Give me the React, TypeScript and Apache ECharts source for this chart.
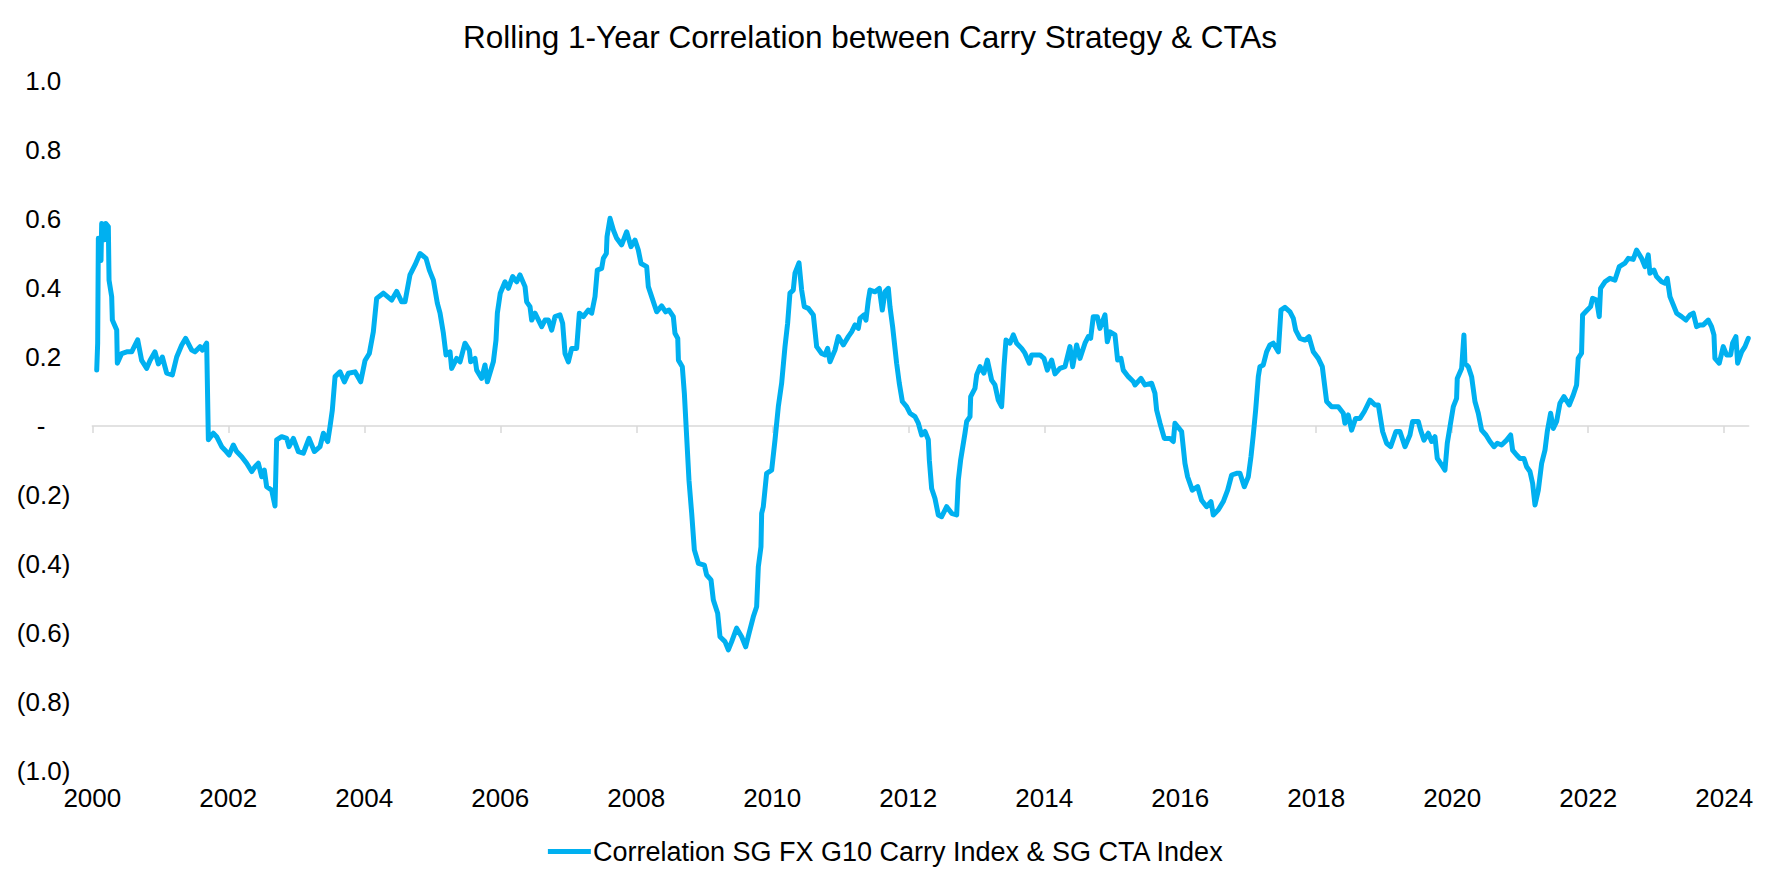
import React, { useEffect, useRef } from "react";
import * as echarts from "echarts";

const TITLE = "Rolling 1-Year Correlation between Carry Strategy & CTAs";
const SERIES_NAME = "Correlation SG FX G10 Carry Index & SG CTA Index";
const xTickYears = [2000, 2002, 2004, 2006, 2008, 2010, 2012, 2014, 2016, 2018, 2020, 2022, 2024];
const yTickValues = [-1, -0.8, -0.6, -0.4, -0.2, 0, 0.2, 0.4, 0.6, 0.8, 1];

// [decimal year, correlation]
const corr2000to2003: [number, number][] = [
  [2000.065, 0.162], [2000.079, 0.24], [2000.089, 0.544], [2000.128, 0.48], [2000.138, 0.587],
  [2000.177, 0.54], [2000.197, 0.587], [2000.236, 0.578], [2000.246, 0.423], [2000.285, 0.375],
  [2000.295, 0.307], [2000.359, 0.278], [2000.368, 0.182], [2000.432, 0.21], [2000.506, 0.215],
  [2000.579, 0.215], [2000.667, 0.25], [2000.726, 0.19], [2000.8, 0.167], [2000.849, 0.19],
  [2000.922, 0.215], [2000.971, 0.18], [2001.03, 0.2], [2001.094, 0.153], [2001.177, 0.148],
  [2001.241, 0.2], [2001.315, 0.235], [2001.373, 0.254], [2001.462, 0.22], [2001.511, 0.215],
  [2001.584, 0.23], [2001.618, 0.22], [2001.682, 0.24], [2001.707, -0.04], [2001.78, -0.021],
  [2001.829, -0.031], [2001.903, -0.06], [2001.952, -0.07], [2002.011, -0.084], [2002.074, -0.055],
  [2002.123, -0.074], [2002.197, -0.089], [2002.27, -0.108], [2002.344, -0.132], [2002.393, -0.118],
  [2002.442, -0.108], [2002.491, -0.147], [2002.53, -0.128], [2002.564, -0.176], [2002.638, -0.186],
  [2002.687, -0.232], [2002.711, -0.04], [2002.785, -0.031], [2002.859, -0.036], [2002.893, -0.06],
  [2002.957, -0.036],
];

const corr2003to2007: [number, number][] = [
  [2003.03, -0.074], [2003.104, -0.079], [2003.187, -0.036], [2003.266, -0.074], [2003.349, -0.06],
  [2003.398, -0.021], [2003.462, -0.045], [2003.496, -0.002], [2003.53, 0.046], [2003.57, 0.143],
  [2003.643, 0.157], [2003.707, 0.128], [2003.766, 0.153], [2003.864, 0.157], [2003.947, 0.128],
  [2004.011, 0.19], [2004.074, 0.21], [2004.133, 0.273], [2004.182, 0.37], [2004.28, 0.385],
  [2004.403, 0.365], [2004.476, 0.39], [2004.55, 0.36], [2004.599, 0.36], [2004.672, 0.438],
  [2004.746, 0.467], [2004.819, 0.5], [2004.908, 0.486], [2004.957, 0.452], [2005.016, 0.423],
  [2005.074, 0.356], [2005.114, 0.327], [2005.163, 0.269], [2005.202, 0.206], [2005.261, 0.215],
  [2005.285, 0.167], [2005.359, 0.196], [2005.408, 0.186], [2005.481, 0.24], [2005.545, 0.22],
  [2005.564, 0.186], [2005.628, 0.196], [2005.653, 0.162], [2005.726, 0.138], [2005.775, 0.177],
  [2005.81, 0.128], [2005.898, 0.186], [2005.937, 0.249], [2005.957, 0.327], [2006.0, 0.385],
  [2006.07, 0.418], [2006.119, 0.399], [2006.182, 0.433], [2006.241, 0.418], [2006.29, 0.438],
  [2006.364, 0.404], [2006.388, 0.36], [2006.437, 0.346], [2006.462, 0.307], [2006.511, 0.327],
  [2006.609, 0.288], [2006.658, 0.307], [2006.707, 0.307], [2006.756, 0.278], [2006.805, 0.317],
  [2006.878, 0.322], [2006.917, 0.298], [2006.952, 0.21], [2007.001, 0.186], [2007.05, 0.225],
  [2007.123, 0.225], [2007.163, 0.327], [2007.221, 0.317], [2007.295, 0.336], [2007.344, 0.327],
];

const corr2007to2011: [number, number][] = [
  [2007.393, 0.375], [2007.427, 0.452], [2007.491, 0.457], [2007.516, 0.486], [2007.56, 0.5],
  [2007.57, 0.549], [2007.614, 0.602], [2007.663, 0.568], [2007.712, 0.544], [2007.785, 0.525],
  [2007.859, 0.563], [2007.922, 0.52], [2007.981, 0.539], [2008.03, 0.51], [2008.07, 0.471],
  [2008.153, 0.462], [2008.177, 0.404], [2008.226, 0.375], [2008.3, 0.331], [2008.373, 0.348],
  [2008.432, 0.331], [2008.481, 0.336], [2008.545, 0.317], [2008.569, 0.269], [2008.61, 0.254],
  [2008.62, 0.191], [2008.677, 0.172], [2008.707, 0.095], [2008.741, -0.031], [2008.775, -0.157],
  [2008.815, -0.253], [2008.854, -0.359], [2008.913, -0.398], [2009.001, -0.403], [2009.035, -0.432],
  [2009.099, -0.446], [2009.133, -0.504], [2009.197, -0.543], [2009.231, -0.611], [2009.305, -0.625],
  [2009.354, -0.649], [2009.403, -0.625], [2009.476, -0.586], [2009.55, -0.611], [2009.609, -0.64],
  [2009.658, -0.601], [2009.721, -0.553], [2009.77, -0.524], [2009.795, -0.408], [2009.834, -0.35],
  [2009.844, -0.253], [2009.868, -0.234], [2009.917, -0.137], [2009.991, -0.128], [2010.04, -0.041],
  [2010.089, 0.056], [2010.138, 0.124], [2010.187, 0.23], [2010.226, 0.298], [2010.26, 0.385],
  [2010.309, 0.394], [2010.334, 0.443], [2010.393, 0.473], [2010.432, 0.394], [2010.471, 0.346],
  [2010.53, 0.341], [2010.604, 0.322], [2010.653, 0.23], [2010.726, 0.21], [2010.775, 0.206],
  [2010.814, 0.225], [2010.849, 0.186], [2010.922, 0.22], [2010.971, 0.259], [2011.045, 0.235],
  [2011.118, 0.259], [2011.167, 0.273],
];

const corr2011to2015: [number, number][] = [
  [2011.217, 0.293], [2011.266, 0.283], [2011.29, 0.312], [2011.349, 0.322], [2011.378, 0.307],
  [2011.413, 0.365], [2011.437, 0.394], [2011.511, 0.389], [2011.574, 0.399], [2011.618, 0.336],
  [2011.658, 0.389], [2011.707, 0.399], [2011.731, 0.346], [2011.77, 0.288], [2011.829, 0.182],
  [2011.868, 0.124], [2011.913, 0.071], [2011.976, 0.056], [2012.025, 0.037], [2012.099, 0.027],
  [2012.148, 0.008], [2012.197, -0.026], [2012.246, -0.016], [2012.295, -0.04], [2012.31, -0.099],
  [2012.344, -0.181], [2012.393, -0.21], [2012.442, -0.258], [2012.491, -0.263], [2012.565, -0.234],
  [2012.638, -0.253], [2012.712, -0.258], [2012.736, -0.157], [2012.77, -0.099], [2012.834, -0.021],
  [2012.859, 0.013], [2012.908, 0.027], [2012.918, 0.085], [2012.981, 0.109], [2013.006, 0.148],
  [2013.055, 0.172], [2013.113, 0.153], [2013.163, 0.191], [2013.226, 0.133], [2013.275, 0.119],
  [2013.324, 0.075], [2013.373, 0.056], [2013.408, 0.172], [2013.437, 0.249], [2013.496, 0.24],
  [2013.545, 0.264], [2013.594, 0.24], [2013.667, 0.225], [2013.716, 0.211], [2013.78, 0.182],
  [2013.815, 0.206], [2013.937, 0.206], [2013.996, 0.196], [2014.045, 0.162], [2014.109, 0.191],
  [2014.158, 0.151], [2014.231, 0.167], [2014.305, 0.172], [2014.378, 0.23], [2014.418, 0.172],
  [2014.476, 0.235], [2014.525, 0.196], [2014.599, 0.24], [2014.648, 0.259], [2014.682, 0.254],
  [2014.721, 0.317], [2014.78, 0.317], [2014.819, 0.283], [2014.893, 0.322], [2014.927, 0.244],
];

const corr2015to2018: [number, number][] = [
  [2014.967, 0.273], [2015.04, 0.264], [2015.079, 0.191], [2015.128, 0.196], [2015.162, 0.162],
  [2015.236, 0.143], [2015.309, 0.129], [2015.334, 0.119], [2015.422, 0.138], [2015.481, 0.119],
  [2015.579, 0.124], [2015.628, 0.095], [2015.653, 0.046], [2015.702, 0.008], [2015.766, -0.036],
  [2015.849, -0.036], [2015.898, -0.045], [2015.922, 0.008], [2016.02, -0.016], [2016.069, -0.108],
  [2016.108, -0.147], [2016.177, -0.186], [2016.256, -0.176], [2016.314, -0.215], [2016.388, -0.234],
  [2016.452, -0.219], [2016.486, -0.258], [2016.56, -0.243], [2016.633, -0.219], [2016.697, -0.186],
  [2016.756, -0.142], [2016.829, -0.137], [2016.878, -0.137], [2016.942, -0.176], [2017.001, -0.147],
  [2017.04, -0.089], [2017.074, -0.026], [2017.109, 0.046], [2017.148, 0.143], [2017.172, 0.172],
  [2017.221, 0.177], [2017.27, 0.215], [2017.319, 0.235], [2017.368, 0.24], [2017.442, 0.215],
  [2017.481, 0.336], [2017.54, 0.344], [2017.614, 0.331], [2017.663, 0.312], [2017.697, 0.278],
  [2017.76, 0.254], [2017.834, 0.249], [2017.893, 0.259], [2017.957, 0.215], [2018.03, 0.196],
  [2018.089, 0.172], [2018.153, 0.071], [2018.226, 0.056], [2018.324, 0.056], [2018.398, 0.037],
  [2018.422, 0.008], [2018.471, 0.032], [2018.52, -0.012], [2018.579, 0.022], [2018.643, 0.022],
  [2018.707, 0.042],
];

const corr2018to2021: [number, number][] = [
  [2018.79, 0.075], [2018.864, 0.061], [2018.913, 0.061], [2018.976, -0.016], [2019.035, -0.05],
  [2019.094, -0.06], [2019.172, -0.016], [2019.231, -0.016], [2019.305, -0.06], [2019.378, -0.026],
  [2019.417, 0.013], [2019.501, 0.013], [2019.535, -0.012], [2019.584, -0.041], [2019.648, -0.021],
  [2019.697, -0.045], [2019.746, -0.031], [2019.78, -0.094], [2019.844, -0.113], [2019.893, -0.128],
  [2019.927, -0.05], [2019.967, -0.002], [2020.016, 0.056], [2020.064, 0.08], [2020.074, 0.138],
  [2020.138, 0.167], [2020.172, 0.264], [2020.187, 0.182], [2020.236, 0.172], [2020.285, 0.143],
  [2020.334, 0.071], [2020.383, 0.037], [2020.432, -0.012], [2020.496, -0.026], [2020.555, -0.045],
  [2020.614, -0.06], [2020.663, -0.05], [2020.726, -0.055], [2020.8, -0.041], [2020.859, -0.026],
  [2020.888, -0.07], [2020.947, -0.084], [2020.996, -0.094], [2021.055, -0.094], [2021.094, -0.118],
  [2021.143, -0.132], [2021.182, -0.166], [2021.217, -0.229], [2021.266, -0.186], [2021.315, -0.108],
  [2021.364, -0.07], [2021.398, -0.016], [2021.447, 0.037], [2021.486, -0.007], [2021.535, 0.013],
  [2021.584, 0.066], [2021.643, 0.085], [2021.721, 0.061], [2021.78, 0.09],
];

const corr2021to2024: [number, number][] = [
  [2021.829, 0.119], [2021.853, 0.196], [2021.902, 0.211], [2021.917, 0.322], [2021.986, 0.336],
  [2022.035, 0.346], [2022.064, 0.37], [2022.123, 0.365], [2022.162, 0.317], [2022.182, 0.399],
  [2022.246, 0.418], [2022.319, 0.428], [2022.393, 0.423], [2022.457, 0.462], [2022.54, 0.472],
  [2022.589, 0.486], [2022.662, 0.483], [2022.711, 0.51], [2022.785, 0.486], [2022.834, 0.462],
  [2022.883, 0.496], [2022.907, 0.443], [2022.966, 0.452], [2023.005, 0.433], [2023.079, 0.418],
  [2023.128, 0.414], [2023.162, 0.428], [2023.202, 0.375], [2023.251, 0.351], [2023.3, 0.327],
  [2023.373, 0.317], [2023.437, 0.307], [2023.496, 0.322], [2023.545, 0.327], [2023.594, 0.288],
  [2023.643, 0.293], [2023.692, 0.293], [2023.765, 0.307], [2023.814, 0.288], [2023.849, 0.264],
  [2023.863, 0.196], [2023.927, 0.182], [2023.986, 0.23], [2024.035, 0.206], [2024.094, 0.206],
  [2024.123, 0.24], [2024.172, 0.259], [2024.197, 0.182], [2024.256, 0.215], [2024.305, 0.23],
  [2024.354, 0.254],
];

const correlationData: [number, number][] = [
  ...corr2000to2003,
  ...corr2003to2007,
  ...corr2007to2011,
  ...corr2011to2015,
  ...corr2015to2018,
  ...corr2018to2021,
  ...corr2021to2024,
];

const X_MIN = 2000;
const X_MAX = 2024.36;

export default function App() {
  const ref = useRef<HTMLDivElement>(null);

  useEffect(() => {
    if (!ref.current) return;
    const chart = echarts.init(ref.current, null, { renderer: "svg" });
    const font = "'Liberation Sans', Arial, Helvetica, sans-serif";
    const axisColor = "#D9D9D9";

    chart.setOption({
      animation: false,
      backgroundColor: "#FFFFFF",
      title: {
        text: TITLE,
        left: 865,
        top: 16,
        textAlign: "center",
        textStyle: { fontFamily: font, fontSize: 31.5, fontWeight: "normal", color: "#000000" },
      },
      legend: {
        data: [{ name: SERIES_NAME, icon: "rect" }],
        left: "center",
        top: 833,
        itemWidth: 43,
        itemHeight: 5,
        itemGap: 10,
        textStyle: { fontFamily: font, fontSize: 27, color: "#000000", padding: [0, 0, 0, -3] },
      },
      grid: { left: 92.3, right: 23.3, top: 81, bottom: 115, containLabel: false },
      xAxis: [
        {
          type: "value",
          position: "bottom",
          min: X_MIN,
          max: X_MAX,
          interval: 2,
          axisLine: { show: true, onZero: true, lineStyle: { color: axisColor, width: 1.5 } },
          axisTick: {
            show: true,
            length: 7,
            customValues: xTickYears,
            lineStyle: { color: axisColor, width: 1.5 },
          },
          axisLabel: { show: false },
          splitLine: { show: false },
        },
        {
          type: "value",
          position: "bottom",
          min: X_MIN,
          max: X_MAX,
          interval: 2,
          axisLine: { show: false, onZero: false },
          axisTick: { show: false },
          axisLabel: {
            show: true,
            customValues: xTickYears,
            formatter: (v: number) => String(Math.round(v)),
            fontFamily: font,
            fontSize: 26,
            color: "#000000",
            margin: 14,
          },
          splitLine: { show: false },
        },
      ],
      yAxis: {
        type: "value",
        min: -1,
        max: 1,
        interval: 0.2,
        axisLine: { show: false },
        axisTick: { show: false },
        splitLine: { show: false },
        axisLabel: {
          customValues: yTickValues,
          margin: 22,
          formatter: (v: number) => {
            if (Math.abs(v) < 1e-9) return "{n|-}{z| }";
            if (v < 0) return "{n|(" + Math.abs(v).toFixed(1) + ")}";
            return "{n|" + v.toFixed(1) + "}{p| }";
          },
          rich: {
            n: { fontFamily: font, fontSize: 26, color: "#000000" },
            p: { fontFamily: font, fontSize: 26, width: 9 },
            z: { fontFamily: font, fontSize: 26, width: 25 },
          },
        },
      },
      series: [
        {
          type: "line",
          name: SERIES_NAME,
          xAxisIndex: 0,
          yAxisIndex: 0,
          data: correlationData,
          showSymbol: false,
          symbol: "none",
          lineStyle: { color: "#00B0F0", width: 5, join: "round", cap: "round" },
          itemStyle: { color: "#00B0F0" },
        },
      ],
    });

    return () => chart.dispose();
  }, []);

  return (
    <div
      ref={ref}
      style={{ position: "absolute", left: 0, top: 0, width: 1772, height: 886 }}
    />
  );
}
